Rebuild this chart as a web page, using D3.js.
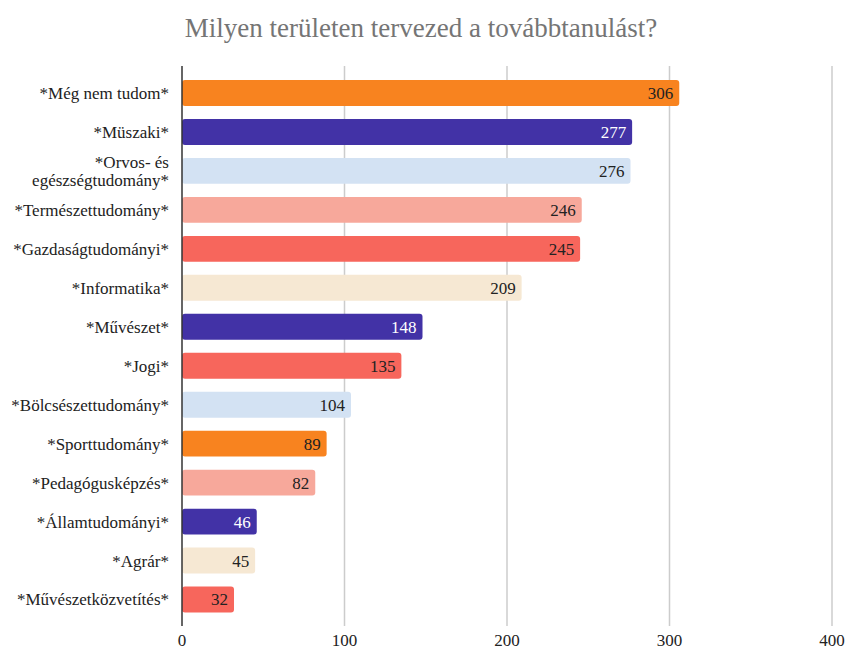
<!DOCTYPE html>
<html>
<head>
<meta charset="utf-8">
<script src="https://cdn.jsdelivr.net/npm/d3@7"></script>
<style>
  body { margin: 0; background: #fff; }
</style>
</head>
<body>
<svg id="chart" width="849" height="651"></svg>
<script>
var categories = [
  ["*Még nem tudom*"],
  ["*Müszaki*"],
  ["*Orvos- és", "egészségtudomány*"],
  ["*Természettudomány*"],
  ["*Gazdaságtudományi*"],
  ["*Informatika*"],
  ["*Művészet*"],
  ["*Jogi*"],
  ["*Bölcsészettudomány*"],
  ["*Sporttudomány*"],
  ["*Pedagógusképzés*"],
  ["*Államtudományi*"],
  ["*Agrár*"],
  ["*Művészetközvetítés*"]
];
var values = [306, 277, 276, 246, 245, 209, 148, 135, 104, 89, 82, 46, 45, 32];
var barColors = ["#f8831f", "#4232a6", "#d3e2f3", "#f7a89b", "#f7665c", "#f6e8d3", "#4232a6",
                 "#f7665c", "#d3e2f3", "#f8831f", "#f7a89b", "#4232a6", "#f6e8d3", "#f7665c"];
var xTicks = [0, 100, 200, 300, 400];

var svg = d3.select("#chart")
  .attr("font-family", "'Liberation Serif', 'Times New Roman', serif");
var left = 182, right = 832;

var x = d3.scaleLinear().domain([0, 400]).range([left, right]);
var y = d3.scaleBand().domain(d3.range(values.length)).range([73.5, 619]).paddingInner(0.335).paddingOuter(0.1675);

// title
svg.append("text")
  .attr("x", 421).attr("y", 37)
  .attr("text-anchor", "middle")
  .attr("font-size", 27)
  .attr("fill", "#757575")
  .text("Milyen területen tervezed a továbbtanulást?");

// gridlines
svg.append("g").selectAll("line")
  .data(xTicks.slice(1))
  .enter().append("line")
  .attr("x1", d => x(d)).attr("x2", d => x(d))
  .attr("y1", 66).attr("y2", 626)
  .attr("stroke", "#cccccc").attr("stroke-width", 1.5);

// bars
svg.append("g").selectAll("rect")
  .data(values)
  .enter().append("rect")
  .attr("x", x(0))
  .attr("y", (d, i) => y(i))
  .attr("width", d => x(d) - x(0))
  .attr("height", y.bandwidth())
  .attr("rx", 3)
  .attr("fill", (d, i) => barColors[i]);

// value labels
svg.append("g").selectAll("text")
  .data(values)
  .enter().append("text")
  .attr("x", d => x(d) - 6)
  .attr("y", (d, i) => y(i) + y.bandwidth() / 2)
  .attr("dy", "0.35em")
  .attr("text-anchor", "end")
  .attr("font-size", 17)
  .attr("fill", (d, i) => barColors[i] == "#4232a6" ? "#ffffff" : "#222222")
  .text(d => d);

// baseline
svg.append("line")
  .attr("x1", x(0)).attr("x2", x(0))
  .attr("y1", 66).attr("y2", 626)
  .attr("stroke", "#333333").attr("stroke-width", 1.5);

// category labels
var cat = svg.append("g").selectAll("text")
  .data(categories)
  .enter().append("text")
  .attr("text-anchor", "end")
  .attr("font-size", 17)
  .attr("fill", "#222222")
  .attr("transform", (d, i) => "translate(169," + (y(i) + y.bandwidth() / 2) + ")");

cat.selectAll("tspan")
  .data(d => d.map((t, k) => ({ t: t, k: k, n: d.length })))
  .enter().append("tspan")
  .attr("x", 0)
  .attr("y", d => (d.k - (d.n - 1) / 2) * 18)
  .attr("dy", "0.35em")
  .text(d => d.t);

// x axis tick labels
svg.append("g").selectAll("text")
  .data(xTicks)
  .enter().append("text")
  .attr("x", d => x(d))
  .attr("y", 646)
  .attr("text-anchor", "middle")
  .attr("font-size", 17)
  .attr("fill", "#222222")
  .text(d => d);
</script>
</body>
</html>
